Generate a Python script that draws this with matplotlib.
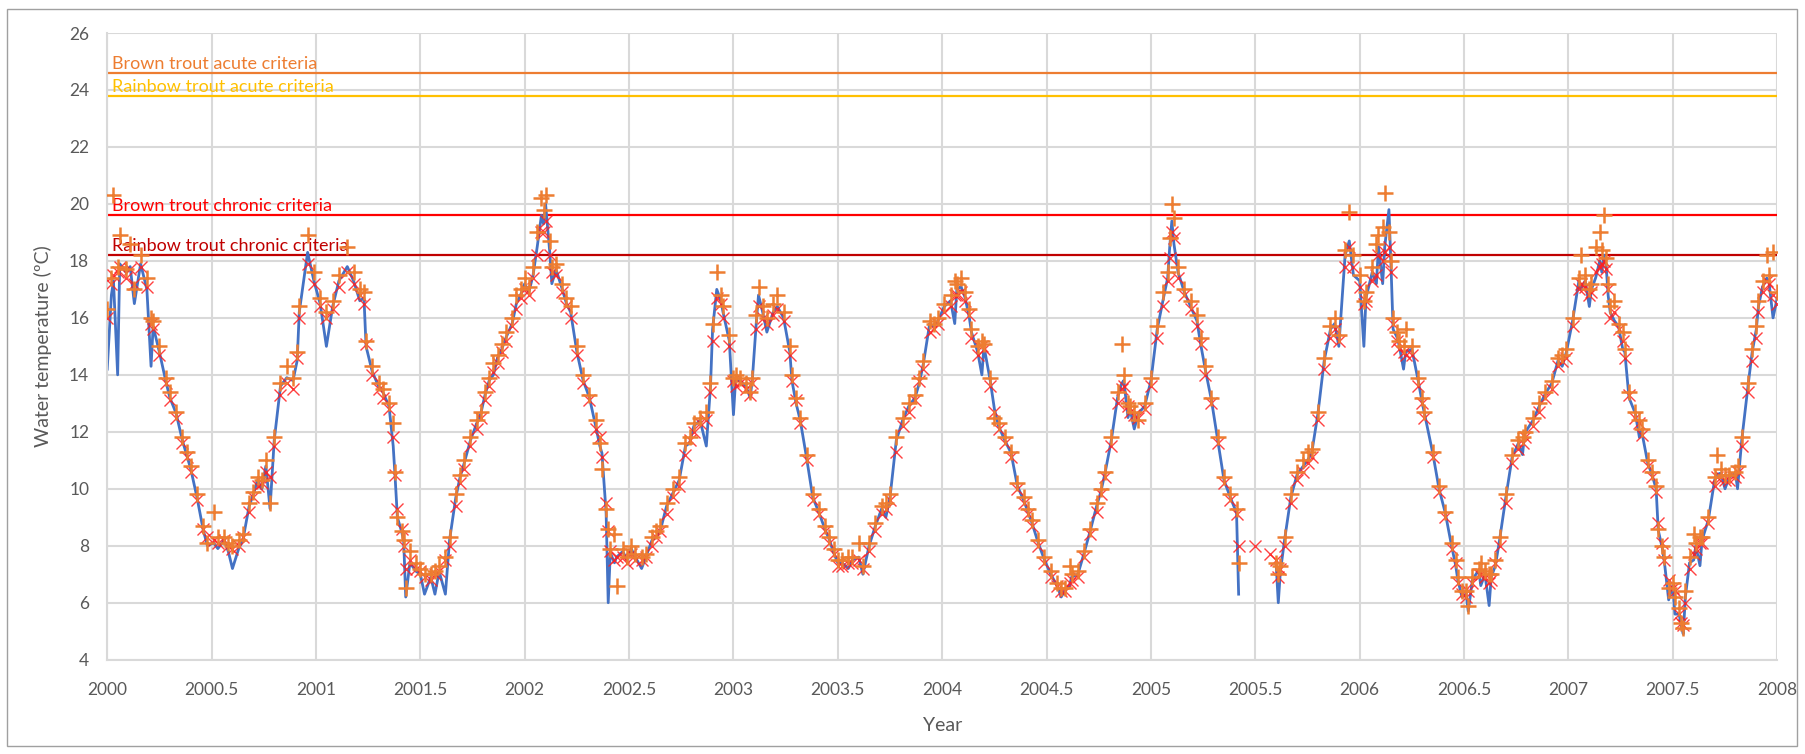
import numpy as np
import matplotlib
matplotlib.use("Agg")
import matplotlib.pyplot as plt
from matplotlib.patches import Rectangle

plt.rcParams['font.family'] = ['Lato', 'DejaVu Sans']

# decimal year of each reading
years = [
    2000.00, 2000.02, 2000.03, 2000.05, 2000.06, 2000.09, 2000.11, 2000.13, 2000.16, 2000.19, 2000.21, 2000.22, 2000.25,
    2000.28, 2000.30, 2000.33, 2000.36, 2000.38, 2000.40, 2000.43, 2000.46, 2000.48, 2000.51, 2000.53, 2000.56, 2000.58,
    2000.60, 2000.63, 2000.65, 2000.68, 2000.70, 2000.72, 2000.74, 2000.76, 2000.78, 2000.80, 2000.83, 2000.86, 2000.89,
    2000.91, 2000.92, 2000.96, 2000.99, 2001.02, 2001.05, 2001.08, 2001.11, 2001.15, 2001.18, 2001.21, 2001.23,
    2001.24, 2001.27, 2001.30, 2001.32, 2001.35, 2001.37, 2001.38, 2001.39, 2001.41, 2001.42, 2001.43, 2001.45,
    2001.48, 2001.50, 2001.52, 2001.55, 2001.57, 2001.59, 2001.62, 2001.64, 2001.67, 2001.69, 2001.71, 2001.74, 2001.77,
    2001.79, 2001.81, 2001.83, 2001.85, 2001.87, 2001.89, 2001.91, 2001.94, 2001.96, 2001.98, 2002.00, 2002.02, 2002.04,
    2002.06, 2002.08, 2002.09, 2002.10, 2002.12, 2002.13, 2002.15, 2002.18, 2002.20, 2002.22, 2002.25, 2002.28, 2002.31,
    2002.34, 2002.36, 2002.37, 2002.39, 2002.40, 2002.41, 2002.43, 2002.44, 2002.47, 2002.49, 2002.51, 2002.53, 2002.56,
    2002.58, 2002.61, 2002.63, 2002.65, 2002.68, 2002.71, 2002.74, 2002.77, 2002.79, 2002.81, 2002.84, 2002.87,
    2002.89, 2002.90, 2002.92, 2002.94, 2002.95, 2002.98, 2003.00, 2003.01, 2003.03, 2003.06, 2003.08, 2003.09, 2003.11, 2003.12,
    2003.14, 2003.16, 2003.19, 2003.21, 2003.24, 2003.27, 2003.28, 2003.30, 2003.32, 2003.35, 2003.38, 2003.41,
    2003.44, 2003.46, 2003.48, 2003.50, 2003.52, 2003.55, 2003.57, 2003.60, 2003.62, 2003.65, 2003.68, 2003.71,
    2003.73, 2003.75, 2003.78, 2003.81, 2003.84, 2003.87, 2003.89, 2003.91, 2003.94, 2003.96, 2003.98, 2004.01,
    2004.04, 2004.06, 2004.07, 2004.09, 2004.11, 2004.13, 2004.14, 2004.17, 2004.19, 2004.20, 2004.23, 2004.25, 2004.27,
    2004.30, 2004.33, 2004.36, 2004.39, 2004.41, 2004.43, 2004.46, 2004.49, 2004.52, 2004.55, 2004.57, 2004.59,
    2004.61, 2004.62, 2004.65, 2004.68, 2004.71, 2004.74, 2004.76, 2004.78, 2004.81, 2004.84, 2004.86, 2004.87,
    2004.89, 2004.90, 2004.92, 2004.94, 2004.97, 2005.00, 2005.03, 2005.06, 2005.08, 2005.09, 2005.10, 2005.11, 2005.13,
    2005.16, 2005.19, 2005.22, 2005.24, 2005.26, 2005.29, 2005.32, 2005.35, 2005.38, 2005.41, 2005.42,
    2005.50, 2005.57, 2005.60, 2005.61, 2005.62, 2005.64, 2005.67, 2005.70, 2005.73, 2005.75, 2005.77,
    2005.80, 2005.83, 2005.86, 2005.88, 2005.90, 2005.93, 2005.95, 2005.97, 2006.00, 2006.02, 2006.03, 2006.06,
    2006.08, 2006.09, 2006.11, 2006.12, 2006.14, 2006.15, 2006.16, 2006.18, 2006.19, 2006.21, 2006.22, 2006.25,
    2006.28, 2006.30, 2006.31, 2006.35, 2006.38, 2006.41, 2006.44, 2006.46, 2006.47, 2006.49, 2006.51, 2006.52, 2006.54,
    2006.57, 2006.58, 2006.60, 2006.62, 2006.63, 2006.65, 2006.67, 2006.70, 2006.73, 2006.76, 2006.78, 2006.79,
    2006.83, 2006.86, 2006.89, 2006.92, 2006.95, 2006.97, 2006.99, 2007.02, 2007.05, 2007.06, 2007.08,
    2007.10, 2007.11, 2007.13, 2007.15, 2007.16, 2007.17, 2007.18, 2007.19, 2007.20, 2007.22, 2007.24, 2007.26, 2007.27,
    2007.29, 2007.32, 2007.34, 2007.35, 2007.38, 2007.40, 2007.42, 2007.43, 2007.45, 2007.46, 2007.48, 2007.50, 2007.51,
    2007.53, 2007.54, 2007.55, 2007.56, 2007.58, 2007.60, 2007.61, 2007.63, 2007.64, 2007.67, 2007.70, 2007.71, 2007.73,
    2007.75, 2007.77, 2007.80, 2007.81, 2007.83, 2007.86, 2007.88, 2007.90, 2007.91, 2007.93, 2007.95, 2007.96, 2007.98, 2008.00,
]

nan = np.nan

# measured water temperature (blue line)
observed = [
    14.2, 16.8, 17.3, 14.0, 17.9, 17.6, 17.8, 16.5, 17.9, 17.0, 14.3, 15.7, 14.8,
    13.8, 13.2, 12.65, 11.7, 11.2, 10.7, 9.7, 8.55, 8.0, 8.1, 7.9, 8.2, 7.8,
    7.2, 7.9, 8.2, 9.4, 9.8, 10.3, 10.0, 10.8, 9.3, 11.7, 13.6, 13.9, 13.8,
    14.5, 16.2, 18.3, 17.3, 16.5, 15.0, 16.4, 17.3, 17.8, 17.3, 16.6, 16.7,
    15.0, 14.1, 13.6, 13.4, 12.9, 11.5, 10.3, 9.0, 8.5, 8.2, 6.2, 7.4,
    7.1, 7.0, 6.3, 6.9, 6.3, 7.1, 6.3, 8.2, 9.7, 10.4, 10.9, 11.7, 12.3,
    12.65, 13.3, 13.8, 14.0, 14.6, 14.9, 15.3, 15.8, 16.5, 16.8, 17.2, 16.9, 17.5,
    18.5, 19.6, 19.3, 20.0, 18.3, 17.2, 17.7, 17.0, 16.5, 16.2, 14.8, 13.8, 13.2,
    12.2, 11.5, 11.25, 9.15, 6.0, 7.75, 7.4, 7.6, 7.8, 7.5, 7.9, 7.6, 7.2,
    7.6, 8.2, 8.3, 8.55, 9.4, 9.85, 10.3, 11.5, 11.6, 12.2, 12.4, 11.5,
    13.6, 15.6, 17.0, 16.6, 16.2, 15.2, 12.6, 13.8, 13.8, 13.6, 13.2, 13.8, 15.9, 16.8,
    16.2, 15.5, 16.2, 16.4, 16.0, 14.8, 13.8, 13.0, 12.4, 11.1, 9.7, 9.15,
    8.55, 8.2, 7.75, 7.4, 7.4, 7.2, 7.5, 7.6, 7.0, 8.0, 8.7, 9.3,
    9.0, 9.7, 11.7, 12.4, 12.9, 13.2, 13.7, 14.4, 15.8, 15.7, 15.9, 16.4,
    16.6, 15.8, 17.0, 17.1, 16.7, 16.0, 15.5, 14.8, 14.0, 15.0, 13.8, 12.8, 12.2,
    11.7, 11.25, 10.1, 9.6, 9.2, 8.8, 8.1, 7.5, 7.0, 6.6, 6.2, 6.45,
    6.6, 6.9, 7.0, 7.75, 8.55, 9.4, 9.9, 10.55, 11.7, 13.2, 13.7, 13.8,
    12.5, 12.8, 12.1, 12.65, 12.9, 13.8, 15.6, 16.7, 17.4, 18.5, 19.4, 18.6, 17.6,
    16.9, 16.4, 15.9, 15.0, 14.2, 13.1, 11.7, 10.3, 9.7, 9.15, 6.3,
    nan, nan, 7.3, 6.0, 7.1, 8.2, 9.7, 10.5, 10.8, 11.0, 11.25,
    12.65, 14.5, 15.6, 15.8, 15.0, 18.2, 18.7, 17.5, 17.3, 15.0, 16.7, 17.6,
    17.2, 18.5, 17.2, 18.5, 19.8, 17.8, 15.6, 15.3, 15.0, 14.2, 14.8, 14.9,
    13.8, 13.0, 12.65, 11.25, 10.0, 9.15, 8.0, 7.3, 6.8, 6.2, 6.3, 5.7, 6.8,
    7.15, 6.6, 7.0, 5.9, 6.9, 7.3, 8.2, 9.7, 11.1, 11.6, 11.2, 11.95,
    12.4, 12.9, 13.35, 13.7, 14.5, 14.3, 14.8, 15.9, 17.3, 17.0, 17.3,
    16.4, 17.0, 17.4, 18.0, 17.6, 18.2, 17.9, 16.8, 16.2, 15.9, 15.7, 14.9, 14.8,
    13.2, 12.65, 11.8, 12.05, 10.9, 10.5, 10.0, 8.55, 7.9, 7.4, 6.1, 6.6, 5.6,
    5.6, 5.2, 4.9, 6.2, 7.4, 7.5, 8.0, 7.3, 8.2, 8.9, 10.3, 10.5, 10.55,
    10.0, 10.4, 10.55, 10.0, 11.7, 13.6, 14.8, 15.6, 16.4, 17.1, 17.4, 17.3, 16.0, 16.7,
]

# first modelled series (red x markers)
model_x = [
    16.0, 17.2, 17.5, 17.6, 17.8, 17.4, 17.7, 17.2, 17.8, 17.1, 15.8, 15.6, 14.7,
    13.7, 13.1, 12.5, 11.6, 11.1, 10.6, 9.6, 8.6, 8.3, 8.2, 8.1, 8.2, 8.0,
    7.9, 8.0, 8.3, 9.2, 9.7, 10.1, 10.2, 10.6, 10.4, 11.5, 13.3, 13.7, 13.5,
    14.6, 16.0, 17.9, 17.2, 16.4, 16.0, 16.3, 17.1, 17.6, 17.2, 16.8, 16.5,
    15.1, 14.0, 13.5, 13.2, 12.8, 11.8, 10.5, 9.3, 8.6, 8.0, 7.2, 7.5,
    7.2, 7.1, 6.9, 6.8, 7.0, 7.1, 7.5, 8.0, 9.4, 10.2, 10.7, 11.5, 12.1,
    12.5, 13.1, 13.6, 14.1, 14.4, 14.8, 15.2, 15.7, 16.3, 16.7, 17.0, 16.8, 17.4,
    18.2, 19.0, 19.0, 19.4, 18.2, 17.6, 17.5, 16.9, 16.4, 16.0, 14.7, 13.7, 13.1,
    12.1, 11.8, 11.1, 9.5, 8.5, 7.8, 7.5, 7.6, 7.6, 7.4, 7.7, 7.5, 7.5,
    7.6, 8.0, 8.3, 8.5, 9.1, 9.7, 10.1, 11.2, 11.7, 12.0, 12.3, 12.4,
    13.4, 15.2, 16.7, 16.5, 16.0, 15.0, 13.8, 13.6, 13.7, 13.5, 13.3, 13.7, 15.6, 16.4,
    16.0, 15.8, 16.1, 16.3, 15.9, 14.7, 13.8, 13.1, 12.3, 11.0, 9.6, 9.1,
    8.5, 8.1, 7.7, 7.3, 7.3, 7.4, 7.4, 7.5, 7.2, 7.8, 8.5, 9.1,
    9.3, 9.6, 11.3, 12.2, 12.7, 13.1, 13.8, 14.2, 15.5, 15.6, 15.8, 16.2,
    16.4, 16.8, 16.8, 16.9, 16.6, 16.1, 15.3, 14.7, 15.0, 14.9, 13.6, 12.7, 12.1,
    11.6, 11.1, 10.0, 9.5, 9.1, 8.7, 8.0, 7.4, 6.9, 6.6, 6.4, 6.4,
    6.7, 6.8, 6.9, 7.6, 8.4, 9.2, 9.8, 10.4, 11.5, 13.0, 13.5, 13.6,
    12.9, 12.7, 12.6, 12.5, 12.8, 13.6, 15.3, 16.4, 17.3, 18.1, 19.0, 18.8, 17.4,
    16.8, 16.3, 15.7, 15.1, 14.0, 13.0, 11.6, 10.2, 9.6, 9.1, 8.0,
    8.0, 7.7, 7.5, 6.9, 7.2, 8.0, 9.5, 10.3, 10.6, 10.9, 11.1,
    12.4, 14.2, 15.3, 15.6, 15.2, 17.8, 18.5, 17.8, 17.1, 16.5, 16.6, 17.3,
    17.5, 18.2, 18.0, 18.3, 18.5, 17.6, 15.8, 15.2, 14.9, 14.8, 14.7, 14.7,
    13.6, 13.0, 12.5, 11.1, 9.9, 9.0, 7.9, 7.4, 6.7, 6.3, 6.2, 6.4, 6.7,
    7.0, 7.0, 6.9, 6.7, 6.8, 7.4, 8.0, 9.5, 10.9, 11.4, 11.6, 11.8,
    12.2, 12.7, 13.2, 13.5, 14.3, 14.5, 14.6, 15.7, 17.0, 17.2, 17.1,
    16.8, 16.9, 17.6, 17.8, 17.9, 18.0, 17.7, 17.0, 16.0, 16.2, 15.6, 15.2, 14.6,
    13.3, 12.5, 12.3, 11.9, 10.8, 10.4, 9.9, 8.8, 8.1, 7.5, 6.8, 6.5, 6.4,
    5.6, 5.3, 5.2, 6.0, 7.2, 7.7, 7.9, 8.1, 8.1, 8.8, 10.1, 10.4, 10.4,
    10.3, 10.3, 10.4, 10.6, 11.5, 13.4, 14.5, 15.3, 16.2, 16.9, 17.3, 17.2, 16.8, 16.5,
]

# second modelled series (orange + markers)
model_plus = [
    16.3, 17.4, 20.3, 17.8, 18.9, 17.7, 18.6, 17.0, 18.2, 17.4, 16.0, 15.9, 15.0,
    13.9, 13.4, 12.7, 11.8, 11.3, 10.8, 9.8, 8.7, 8.1, 9.2, 8.3, 8.3, 8.1,
    8.0, 8.2, 8.4, 9.5, 9.9, 10.4, 10.3, 11.0, 9.5, 11.8, 13.7, 14.3, 13.9,
    14.8, 16.4, 18.9, 17.6, 16.7, 16.2, 16.6, 17.5, 18.5, 17.6, 17.0, 16.9,
    15.2, 14.3, 13.7, 13.5, 13.0, 12.3, 10.6, 9.0, 8.5, 8.2, 6.5, 7.8,
    7.4, 7.2, 7.0, 7.0, 7.1, 7.3, 7.6, 8.3, 9.8, 10.5, 11.0, 11.8, 12.4,
    12.7, 13.4, 13.9, 14.4, 14.7, 15.1, 15.5, 16.0, 16.8, 17.0, 17.4, 17.1, 17.8,
    19.0, 20.2, 19.8, 20.3, 18.7, 17.8, 17.9, 17.2, 16.7, 16.4, 15.0, 14.0, 13.3,
    12.4, 11.6, 10.7, 9.3, 8.6, 7.9, 8.4, 6.6, 7.9, 7.6, 8.0, 7.7, 7.6,
    7.7, 8.3, 8.5, 8.7, 9.5, 10.0, 10.4, 11.6, 11.8, 12.3, 12.5, 12.7,
    13.7, 15.8, 17.6, 16.8, 16.4, 15.4, 13.9, 14.0, 13.9, 13.7, 13.4, 13.9, 16.1, 17.1,
    16.4, 16.0, 16.5, 16.8, 16.2, 15.0, 14.0, 13.2, 12.5, 11.2, 9.8, 9.3,
    8.7, 8.3, 7.9, 7.5, 7.5, 7.6, 7.6, 8.1, 7.3, 8.1, 8.8, 9.4,
    9.5, 9.8, 11.8, 12.5, 13.0, 13.3, 13.9, 14.5, 15.9, 15.8, 16.0, 16.5,
    16.8, 17.3, 17.2, 17.4, 16.9, 16.3, 15.6, 15.0, 15.2, 15.1, 13.9, 12.5, 12.3,
    11.8, 11.3, 10.2, 9.7, 9.3, 8.9, 8.2, 7.6, 7.1, 6.7, 6.5, 6.5,
    7.3, 7.0, 7.1, 7.8, 8.6, 9.5, 10.0, 10.6, 11.8, 13.4, 15.1, 14.0,
    13.0, 12.9, 12.7, 12.4, 13.0, 13.9, 15.7, 16.9, 17.6, 18.8, 20.0, 19.5, 17.8,
    17.0, 16.6, 16.1, 15.3, 14.3, 13.2, 11.8, 10.4, 9.8, 9.3, 7.4,
    nan, nan, 7.4, 7.0, 7.3, 8.3, 9.8, 10.6, 11.0, 11.3, 11.4,
    12.7, 14.6, 15.7, 16.0, 15.4, 18.4, 19.7, 18.2, 17.5, 16.6, 16.9, 17.8,
    18.6, 18.9, 19.2, 20.4, 19.0, 18.0, 16.0, 15.5, 15.2, 15.0, 15.6, 15.0,
    13.9, 13.2, 12.7, 11.3, 10.1, 9.2, 8.1, 7.5, 6.9, 6.4, 6.4, 5.9, 6.9,
    7.2, 7.4, 7.1, 7.0, 7.0, 7.5, 8.3, 9.8, 11.2, 11.7, 11.8, 12.0,
    12.5, 13.0, 13.4, 13.8, 14.6, 14.7, 14.9, 16.0, 17.4, 18.2, 17.5,
    17.0, 17.2, 18.5, 19.0, 18.4, 19.6, 18.1, 17.2, 16.4, 16.6, 15.8, 15.5, 14.9,
    13.4, 12.7, 12.4, 12.1, 11.0, 10.6, 10.1, 8.6, 8.0, 7.6, 6.5, 6.7, 6.2,
    5.8, 5.3, 5.1, 6.4, 7.6, 8.4, 8.1, 8.3, 8.3, 9.0, 10.4, 11.2, 10.7,
    10.5, 10.5, 10.6, 10.8, 11.8, 13.7, 14.9, 15.7, 16.6, 17.3, 18.2, 17.5, 18.3, 16.9,
]

criteria_names = ["Brown trout acute criteria", "Rainbow trout acute criteria",
                  "Brown trout chronic criteria", "Rainbow trout chronic criteria"]
criteria_values = [24.6, 23.8, 19.6, 18.2]
criteria_colors = ["#ED7D31", "#FFC000", "#FF0000", "#C00000"]

fig = plt.figure(figsize=(18.05, 7.54), dpi=100)
ax = fig.add_axes([0.0594, 0.1251, 0.9252, 0.8311])

# threshold lines and their labels sit behind the data
for name, val, col in zip(criteria_names, criteria_values, criteria_colors):
    ax.axhline(val, color=col, lw=1.6, zorder=1.5)
    ax.text(2000.025, val + 0.04, name, color=col, fontsize=13, va="bottom", ha="left", zorder=1.6)

ax.plot(years, observed, color="#4472C4", lw=2.0, zorder=2)
ax.plot(years, model_x, ls="none", marker="x", ms=8, mew=1.0, color="#FF2020", alpha=0.85, zorder=3)
ax.plot(years, model_plus, ls="none", marker="+", ms=11.5, mew=1.8, color="#ED7D31", zorder=4)

ax.set_xlim(2000, 2008)
ax.set_ylim(4, 26)
ax.set_xticks(np.arange(2000, 2008.01, 0.5))
ax.set_xticklabels(["2000", "2000.5", "2001", "2001.5", "2002", "2002.5", "2003", "2003.5", "2004",
                    "2004.5", "2005", "2005.5", "2006", "2006.5", "2007", "2007.5", "2008"])
ax.set_yticks(np.arange(4, 26.01, 2))
ax.grid(True, color="#D9D9D9", lw=1.5, zorder=0)
ax.set_axisbelow(True)
ax.tick_params(length=0, labelsize=12.5, labelcolor="#595959")
ax.tick_params(axis="x", pad=16)
ax.tick_params(axis="y", pad=13)
for side in ["top", "right"]:
    ax.spines[side].set_visible(False)
for side in ["left", "bottom"]:
    ax.spines[side].set_color("#D9D9D9")
    ax.spines[side].set_linewidth(1.5)

ax.set_xlabel("Year", fontsize=14, color="#595959")
ax.set_ylabel("Water temperature (ºC)", fontsize=14, color="#595959")
ax.xaxis.set_label_coords(0.5, -0.0914)
ax.yaxis.set_label_coords(-0.0331, 0.5)

# chart border
fig.patches.append(Rectangle((7 / 1805, 1 - 746 / 754), 1790 / 1805, 737 / 754,
                             transform=fig.transFigure, fill=False, edgecolor="#A0A0A0", lw=1.0))

fig.savefig("out.png", dpi=100)
